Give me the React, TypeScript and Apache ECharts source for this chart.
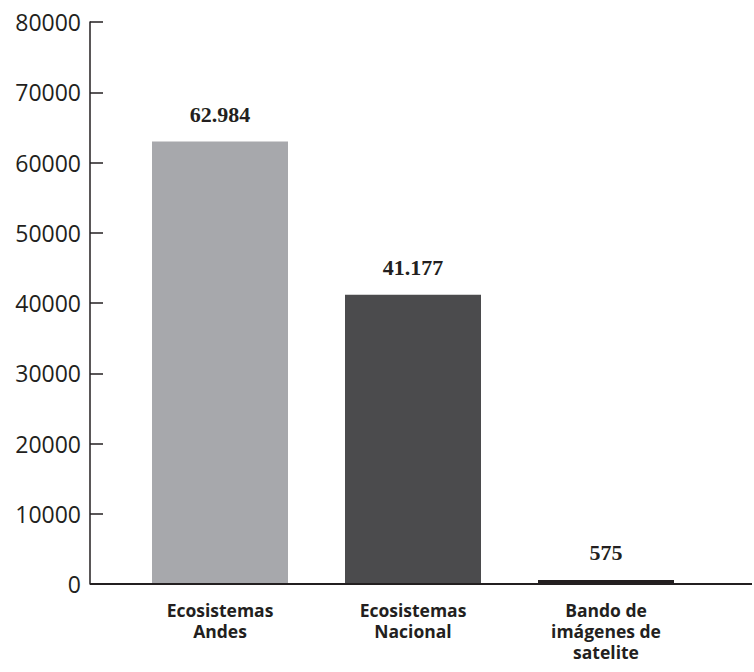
import React, { useEffect, useRef } from "react";
import * as echarts from "echarts";

const categories = ["Ecosistemas\nAndes", "Ecosistemas\nNacional", "Bando de\nimágenes de\nsatelite"];
const values = [62984, 41177, 575];
const barColors = ["#a7a8ac", "#4b4b4d", "#231f20"];
const yMin = 0;
const yMax = 80000;
const yInterval = 10000;

const fmt = (v: number) => String(v).replace(/\B(?=(\d{3})+(?!\d))/g, ".");

export default function App() {
  const ref = useRef<HTMLDivElement>(null);
  useEffect(() => {
    if (!ref.current) return;
    const chart = echarts.init(ref.current, null, { renderer: "svg" });
    const ink = "#231f20";
    chart.setOption({
      animation: false,
      backgroundColor: "#ffffff",
      grid: { left: 123.5, right: 51.5, top: 22, bottom: 88, containLabel: false },
      xAxis: {
        type: "category",
        data: categories,
        axisLine: { show: false },
        axisTick: { show: false },
        axisLabel: {
          color: ink,
          fontFamily: "Open Sans",
          fontWeight: "bold",
          fontSize: 17.5,
          lineHeight: 21,
          margin: 15,
          interval: 0,
        },
      },
      yAxis: {
        type: "value",
        min: yMin,
        max: yMax,
        interval: yInterval,
        offset: 33.5,
        splitLine: { show: false },
        axisLine: { show: true, lineStyle: { color: ink, width: 1.5 } },
        axisTick: { show: true, inside: true, length: 13, lineStyle: { color: ink, width: 1.5 } },
        axisLabel: {
          color: ink,
          fontFamily: "Open Sans",
          fontSize: 23,
          margin: 9,
          formatter: (v: number) => String(v),
        },
      },
      series: [
        {
          type: "bar",
          barWidth: 136,
          data: values.map((v, i) => ({ value: v, itemStyle: { color: barColors[i] } })),
          label: {
            show: true,
            position: "top",
            distance: 16,
            color: ink,
            fontFamily: "Liberation Serif",
            fontWeight: "bold",
            fontSize: 22,
            formatter: (p: any) => fmt(p.value),
          },
        },
      ],
    });
    const y0 = chart.convertToPixel({ yAxisIndex: 0 }, 0) as number;
    chart.setOption({
      graphic: [
        {
          type: "line",
          shape: { x1: 90, y1: y0, x2: 752, y2: y0 },
          style: { stroke: ink, lineWidth: 2 },
          z: 10,
        },
      ],
    });
    return () => chart.dispose();
  }, []);
  return (
    <div
      ref={ref}
      style={{ position: "absolute", left: 0, top: 0, width: 754, height: 672 }}
    />
  );
}
